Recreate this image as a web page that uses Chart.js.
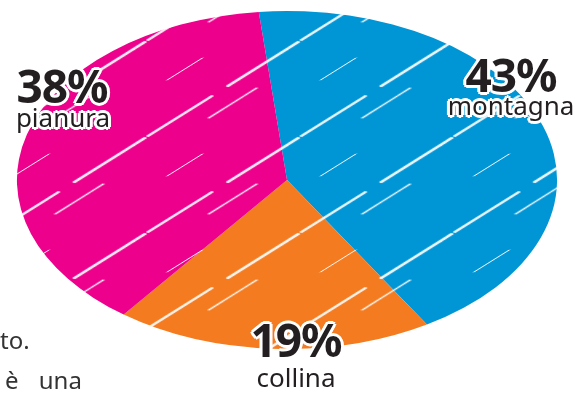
<!DOCTYPE html>
<html>
<head>
<meta charset="utf-8">
<script src="https://cdn.jsdelivr.net/npm/chart.js@4"></script>
<style>
  body { margin: 0; background: #fff; }
  #wrap { position: relative; width: 581px; height: 393px; overflow: hidden; font-family: "Noto Sans", sans-serif; }
  #pie { position: absolute; left: 0; top: 0; }
  .lbl { position: absolute; transform: translate(-50%, -50%); white-space: nowrap; color: #231f20;
    text-shadow: 0 0 2px #fff, 2px 0 0 #fff, -2px 0 0 #fff, 0 2px 0 #fff, 0 -2px 0 #fff,
      2px 2px 0 #fff, -2px -2px 0 #fff, 2px -2px 0 #fff, -2px 2px 0 #fff,
      3px 0 0 #fff, -3px 0 0 #fff, 0 3px 0 #fff, 0 -3px 0 #fff; }
  .pct { font-size: 46px; font-weight: 700; line-height: 46px; letter-spacing: -1px; }
  .name { font-size: 26px; line-height: 26px; }
  .body { position: absolute; font-size: 24px; line-height: 24px; color: #333; white-space: nowrap; }
</style>
</head>
<body>
<div id="wrap">
  <canvas id="pie" width="581" height="393"></canvas>
  <div class="body" style="left:0px; top:328px;">to.</div>
  <div class="body" style="left:5px; top:368px; word-spacing:14px;">è una</div>
</div>
<script>
// fasce altimetriche
const categories = ['montagna', 'collina', 'pianura'];
const shares = [43, 19, 38];
const sliceColors = ['#0096d6', '#f47b20', '#ec008c'];

// label anchors (screen px)
const labelPos = {
  montagna: { pct: [511, 74], name: [511, 105] },
  collina:  { pct: [296, 339], name: [296, 377] },
  pianura:  { pct: [62, 85],   name: [63, 117] }
};

const SQUASH = 1.598; // ellipse: horizontal stretch of the pie

// scribble-ish white strokes as a repeating fill
function scribble(color) {
  const T = 96;
  const c = document.createElement('canvas');
  c.width = T; c.height = T;
  const g = c.getContext('2d');
  g.fillStyle = color;
  g.fillRect(0, 0, T, T);
  g.strokeStyle = 'rgba(255,255,255,0.95)';
  g.lineCap = 'round';
  const strokes = [[8, 40, 40, 1.8], [46, 22, 30, 1.1], [58, 86, 44, 2.2], [20, 80, 22, 1.0]];
  strokes.forEach(([x, y, len, w]) => {
    g.lineWidth = w;
    for (let ox = -T; ox <= T; ox += T) {
      for (let oy = -T; oy <= T; oy += T) {
        g.beginPath();
        g.moveTo(x + ox, y + oy);
        g.lineTo(x + ox + len, y + oy - len);
        g.stroke();
      }
    }
  });
  return g.createPattern(c, 'repeat');
}

const squashPlugin = {
  id: 'squash',
  beforeDatasetsDraw(chart) {
    const arc = chart.getDatasetMeta(0).data[0];
    const ctx = chart.ctx;
    ctx.save();
    ctx.translate(arc.x, arc.y);
    ctx.scale(SQUASH, 1);
    ctx.translate(-arc.x, -arc.y);
  },
  afterDatasetsDraw(chart) {
    chart.ctx.restore();
  }
};

const ctx = document.getElementById('pie').getContext('2d');
new Chart(ctx, {
  type: 'pie',
  data: {
    labels: categories,
    datasets: [{
      data: shares,
      backgroundColor: sliceColors.map(scribble),
      borderWidth: 0
    }]
  },
  options: {
    responsive: false,
    animation: false,
    events: [],
    rotation: -6,
    layout: { padding: { top: 11, bottom: 44, left: 0, right: 7 } },
    plugins: { legend: { display: false }, tooltip: { enabled: false } }
  },
  plugins: [squashPlugin]
});

// labels as real text
const wrap = document.getElementById('wrap');
categories.forEach((cat, i) => {
  const p = labelPos[cat];
  const pct = document.createElement('div');
  pct.className = 'lbl pct';
  pct.textContent = shares[i] + '%';
  pct.style.left = p.pct[0] + 'px';
  pct.style.top = p.pct[1] + 'px';
  wrap.appendChild(pct);
  const nm = document.createElement('div');
  nm.className = 'lbl name';
  nm.textContent = cat;
  nm.style.left = p.name[0] + 'px';
  nm.style.top = p.name[1] + 'px';
  wrap.appendChild(nm);
});
</script>
</body>
</html>
